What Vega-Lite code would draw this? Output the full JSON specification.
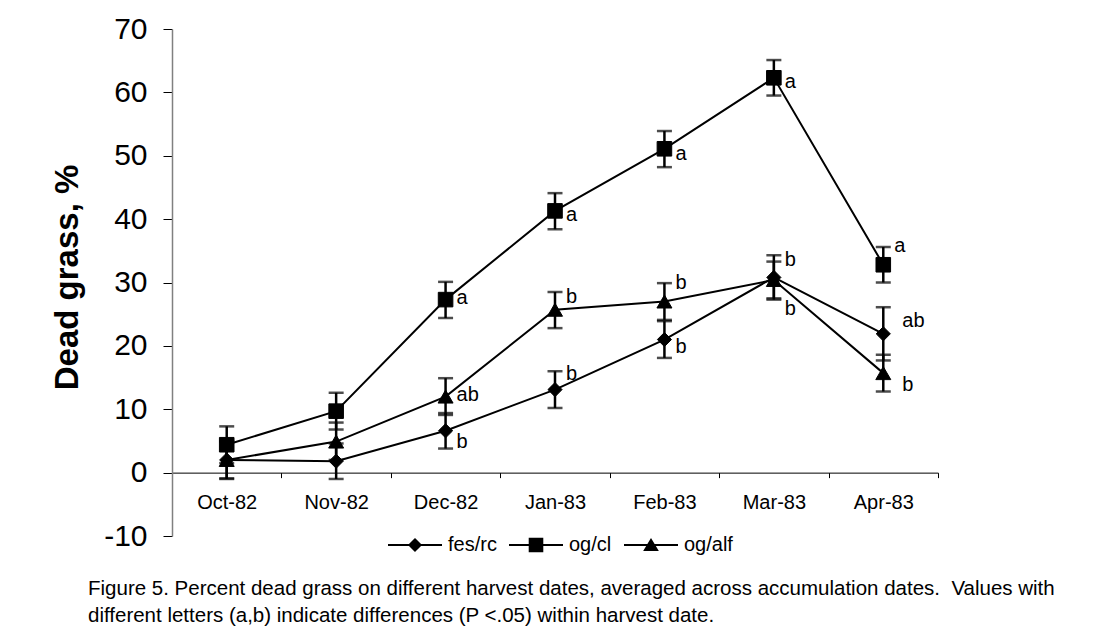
{
  "$schema": "https://vega.github.io/schema/vega-lite/v6.json",
  "width": 766,
  "height": 507,
  "autosize": {"type": "none"},
  "padding": {"left": 172, "top": 29, "right": 170, "bottom": 104},
  "background": "white",
  "config": {
    "view": {"stroke": null},
    "font": "Liberation Sans",
    "axis": {"grid": false},
    "text": {"font": "Liberation Sans"}
  },
  "title": {
    "text": [
      "Figure 5. Percent dead grass on different harvest dates, averaged across accumulation dates.\u00a0 Values with",
      "different letters (a,b) indicate differences (P <.05) within harvest date."
    ],
    "orient": "bottom",
    "anchor": "start",
    "frame": "group",
    "dx": -84,
    "offset": 24,
    "font": "Liberation Sans",
    "fontSize": 20.5,
    "fontWeight": "normal",
    "lineHeight": 27,
    "color": "black"
  },
  "datasets": {
    "series": [
      {"date": "1982-10-15", "series": "fes/rc", "value": 2.0, "lo": -1.0, "hi": 5.0},
      {"date": "1982-11-15", "series": "fes/rc", "value": 1.8, "lo": -1.0, "hi": 4.6},
      {"date": "1982-12-15", "series": "fes/rc", "value": 6.6, "lo": 3.8, "hi": 9.4},
      {"date": "1983-01-15", "series": "fes/rc", "value": 13.1, "lo": 10.2, "hi": 16.0},
      {"date": "1983-02-15", "series": "fes/rc", "value": 21.0, "lo": 18.1, "hi": 23.9},
      {"date": "1983-03-15", "series": "fes/rc", "value": 30.8, "lo": 27.3, "hi": 34.3},
      {"date": "1983-04-15", "series": "fes/rc", "value": 21.9, "lo": 17.7, "hi": 26.1},
      {"date": "1982-10-15", "series": "og/cl", "value": 4.4, "lo": 1.5, "hi": 7.3},
      {"date": "1982-11-15", "series": "og/cl", "value": 9.7, "lo": 6.8, "hi": 12.6},
      {"date": "1982-12-15", "series": "og/cl", "value": 27.3, "lo": 24.4, "hi": 30.1},
      {"date": "1983-01-15", "series": "og/cl", "value": 41.3, "lo": 38.4, "hi": 44.1},
      {"date": "1983-02-15", "series": "og/cl", "value": 51.1, "lo": 48.2, "hi": 53.9},
      {"date": "1983-03-15", "series": "og/cl", "value": 62.3, "lo": 59.5, "hi": 65.1},
      {"date": "1983-04-15", "series": "og/cl", "value": 32.8, "lo": 30.0, "hi": 35.6},
      {"date": "1982-10-15", "series": "og/alf", "value": 2.0, "lo": -0.9, "hi": 4.9},
      {"date": "1982-11-15", "series": "og/alf", "value": 4.9, "lo": 2.0, "hi": 7.9},
      {"date": "1982-12-15", "series": "og/alf", "value": 12.0, "lo": 9.1, "hi": 14.9},
      {"date": "1983-01-15", "series": "og/alf", "value": 25.7, "lo": 22.8, "hi": 28.5},
      {"date": "1983-02-15", "series": "og/alf", "value": 27.0, "lo": 24.1, "hi": 29.9},
      {"date": "1983-03-15", "series": "og/alf", "value": 30.4, "lo": 27.5, "hi": 33.3},
      {"date": "1983-04-15", "series": "og/alf", "value": 15.7, "lo": 12.8, "hi": 18.6}
    ],
    "letters": [
      {"date": "1982-12-15", "series": "og/cl", "letter": "a", "at": 27.6},
      {"date": "1982-12-15", "series": "og/alf", "letter": "ab", "at": 12.3},
      {"date": "1982-12-15", "series": "fes/rc", "letter": "b", "at": 4.8},
      {"date": "1983-01-15", "series": "og/cl", "letter": "a", "at": 40.6},
      {"date": "1983-01-15", "series": "og/alf", "letter": "b", "at": 27.7},
      {"date": "1983-01-15", "series": "fes/rc", "letter": "b", "at": 15.6},
      {"date": "1983-02-15", "series": "og/cl", "letter": "a", "at": 50.3},
      {"date": "1983-02-15", "series": "og/alf", "letter": "b", "at": 29.9},
      {"date": "1983-02-15", "series": "fes/rc", "letter": "b", "at": 19.9},
      {"date": "1983-03-15", "series": "og/cl", "letter": "a", "at": 61.6},
      {"date": "1983-03-15", "series": "fes/rc", "letter": "b", "at": 33.6},
      {"date": "1983-03-15", "series": "og/alf", "letter": "b", "at": 25.8},
      {"date": "1983-04-15", "series": "og/cl", "letter": "a", "at": 35.8},
      {"date": "1983-04-15", "series": "fes/rc", "letter": "ab", "at": 23.9},
      {"date": "1983-04-15", "series": "og/alf", "letter": "b", "at": 13.9}
    ]
  },
  "encoding": {
    "x": {
      "field": "date",
      "timeUnit": "yearmonth",
      "type": "ordinal",
      "scale": {"paddingInner": 0, "paddingOuter": 0},
      "title": null,
      "axis": {
        "format": "%b-%y",
        "offset": -63.375,
        "tickBand": "extent",
        "tickSize": 5,
        "tickColor": "black",
        "tickWidth": 1,
        "domainColor": "black",
        "domainWidth": 1,
        "labelFontSize": 20,
        "labelColor": "black",
        "labelPadding": 15,
        "labelAngle": 0,
        "labelFont": "Liberation Sans"
      }
    }
  },
  "layer": [
    {
      "data": {"name": "series"},
      "mark": {"type": "line", "color": "black", "strokeWidth": 2},
      "encoding": {
        "y": {
          "field": "value",
          "type": "quantitative",
          "scale": {"domain": [-10, 70], "nice": false, "zero": false},
          "title": "Dead grass, %",
          "axis": {
            "values": [-10, 0, 10, 20, 30, 40, 50, 60, 70],
            "labelExpr": "'' + datum.value",
            "tickSize": 9,
            "tickColor": "black",
            "domainColor": "#808080",
            "domainWidth": 1.5,
            "labelFontSize": 30,
            "labelColor": "black",
            "labelPadding": 16,
            "labelFont": "Liberation Sans",
            "titleFont": "Liberation Sans",
            "titleFontSize": 33,
            "titleFontWeight": "bold",
            "titleColor": "black",
            "titleX": -95,
            "titleY": 248,
            "titleBaseline": "alphabetic",
            "titleAngle": -90,
            "titleAlign": "center"
          }
        },
        "detail": {"field": "series"}
      }
    },
    {
      "data": {"name": "series"},
      "mark": {"type": "rule", "color": "black", "strokeWidth": 2.5},
      "encoding": {
        "y": {"field": "lo", "type": "quantitative", "title": "Dead grass, %"},
        "y2": {"field": "hi"}
      }
    },
    {
      "data": {"name": "series"},
      "mark": {"type": "tick", "color": "black", "size": 15, "thickness": 2.5, "orient": "horizontal"},
      "encoding": {
        "y": {"field": "lo", "type": "quantitative", "title": "Dead grass, %"}
      }
    },
    {
      "data": {"name": "series"},
      "mark": {"type": "tick", "color": "black", "size": 15, "thickness": 2.5, "orient": "horizontal"},
      "encoding": {
        "y": {"field": "hi", "type": "quantitative", "title": "Dead grass, %"}
      }
    },
    {
      "data": {"name": "series"},
      "mark": {"type": "point", "filled": true, "color": "black", "stroke": "black", "strokeWidth": 1, "opacity": 1},
      "encoding": {
        "y": {"field": "value", "type": "quantitative", "title": "Dead grass, %"},
        "shape": {
          "field": "series",
          "type": "nominal",
          "scale": {"domain": ["fes/rc", "og/cl", "og/alf"], "range": ["diamond", "square", "triangle-up"]},
          "legend": null
        },
        "size": {
          "field": "series",
          "type": "nominal",
          "scale": {"domain": ["fes/rc", "og/cl", "og/alf"], "range": [200, 225, 256]},
          "legend": null
        }
      }
    },
    {
      "data": {"name": "series"},
      "mark": {"type": "point", "fill": "black", "stroke": "black", "strokeWidth": 2, "opacity": 0},
      "encoding": {
        "y": {"field": "value", "type": "quantitative", "title": "Dead grass, %"},
        "shape": {
          "field": "series",
          "type": "nominal",
          "scale": {
            "domain": ["fes/rc", "og/cl", "og/alf"],
            "range": [
              "M-1,-0.04H1V0.04H-1ZM0,-0.26L0.26,0L0,0.26L-0.26,0Z",
              "M-1,-0.04H1V0.04H-1ZM-0.27,-0.27H0.27V0.27H-0.27Z",
              "M-1,-0.04H1V0.04H-1ZM0,-0.26L0.29,0.22L-0.29,0.22Z"
            ]
          },
          "legend": {
            "orient": "none",
            "direction": "horizontal",
            "legendX": 216,
            "legendY": 489,
            "title": null,
            "symbolSize": 2916,
            "symbolStrokeWidth": 0,
            "symbolFillColor": "black",
            "symbolStrokeColor": "black",
            "symbolOpacity": 1,
            "labelFontSize": 20,
            "labelFont": "Liberation Sans",
            "labelColor": "black",
            "labelOffset": 6,
            "columnPadding": 12
          }
        }
      }
    },
    {
      "data": {"name": "letters"},
      "transform": [{"filter": "!(month(datum.date) == 3 && datum.series != 'og/cl')"}],
      "mark": {"type": "text", "align": "left", "baseline": "middle", "dx": 11, "fontSize": 20, "color": "black", "font": "Liberation Sans"},
      "encoding": {
        "y": {"field": "at", "type": "quantitative", "title": "Dead grass, %"},
        "text": {"field": "letter"}
      }
    },
    {
      "data": {"name": "letters"},
      "transform": [{"filter": "month(datum.date) == 3 && datum.series != 'og/cl'"}],
      "mark": {"type": "text", "align": "left", "baseline": "middle", "dx": 19, "fontSize": 20, "color": "black", "font": "Liberation Sans"},
      "encoding": {
        "y": {"field": "at", "type": "quantitative", "title": "Dead grass, %"},
        "text": {"field": "letter"}
      }
    }
  ],
  "resolve": {"scale": {"shape": "independent"}}
}
